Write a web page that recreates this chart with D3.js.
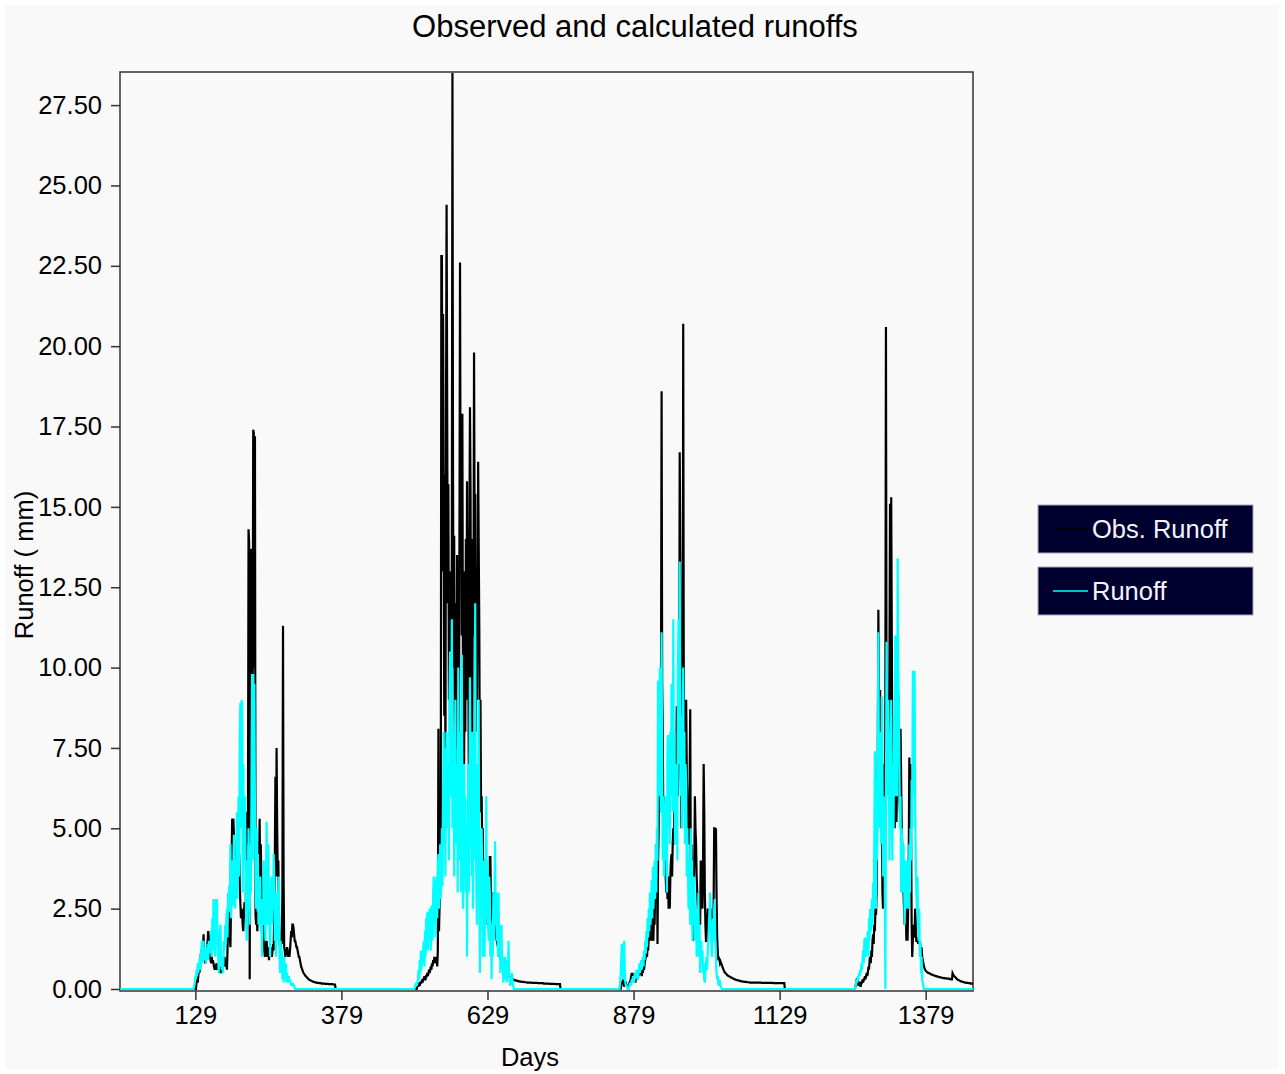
<!DOCTYPE html>
<html>
<head>
<meta charset="utf-8">
<script src="https://cdn.jsdelivr.net/npm/d3@7"></script>
<style>
body { margin: 0; background: #fff; }
svg text { font-family: "Liberation Sans", Arial, sans-serif; }
</style>
</head>
<body>
<div id="grafico"></div>
<script>
const width = 1285;
const height = 1074;

const titulo = "Observed and calculated runoffs";
const xLabel = "Days";
const yLabel = "Runoff ( mm)";
const seriesNames = ["Obs. Runoff", "Runoff"];
const seriesColors = ["#000000", "#00ffff"];

const xTicks = [129, 379, 629, 879, 1129, 1379];
const yTicks = [0, 2.5, 5, 7.5, 10, 12.5, 15, 17.5, 20, 22.5, 25, 27.5];
const xDomain = [0, 1460];
const yDomain = [0, 28.53];

// observado: primeiro dia de cada cheia + valores diarios (fora delas = 0)
const obsStarts = [130, 505, 858, 1258];

const obsSeason1 = [
	0, 0.2, 0.3, 0.2, 0.4, 0.6, 0.5, 0.8, 1.0, 1.2,
	1.0, 1.4, 1.2, 1.7, 1.1, 0.9, 0.8, 1.0, 0.9, 1.3,
	1.5, 1.8, 1.6, 1.2, 1.0, 0.9, 0.8, 1.0, 0.8, 0.9,
	0.8, 0.7, 0.6, 0.7, 0.6, 0.8, 0.7, 0.6, 0.7, 0.8,
	0.6, 0.5, 0.7, 0.6, 0.5, 0.6, 0.8, 0.7, 0.9, 1.0,
	0.8, 0.7, 0.9, 0.6, 1.2, 2.0, 2.9, 2.2, 1.6, 1.3,
	2.5, 4.0, 5.3, 4.5, 5.3, 4.8, 4.3, 3.8, 3.3, 4.0,
	4.2, 3.8, 4.2, 4.0, 4.2, 3.2, 2.7, 2.2, 2.5, 2.4,
	2.0, 1.8, 2.3, 2.7, 2.6, 2.2, 3.8, 5.5, 4.5, 5.0,
	14.3, 13.9, 0.3, 7.6, 13.7, 7.6, 13.5, 8.0, 17.4, 17.3,
	10.0, 17.2, 2.3, 2.0, 2.4, 1.8, 2.3, 2.0, 3.5, 5.3,
	3.3, 4.5, 3.3, 2.2, 1.6, 2.0, 1.6, 1.2, 1.0, 1.5,
	1.2, 1.5, 1.0, 1.3, 1.2, 0.9, 1.2, 1.0, 1.3, 1.2,
	1.0, 1.2, 1.4, 1.2, 2.5, 4.0, 6.6, 3.5, 7.5, 5.0,
	3.5, 4.0, 2.5, 1.5, 1.3, 1.2, 1.5, 1.4, 3.0, 11.3,
	3.5, 1.3, 1.2, 1.0, 1.1, 1.2, 1.3, 1.2, 1.0, 1.1,
	1.0, 1.2, 1.5, 1.8, 1.6, 2.0, 2.0, 1.9, 1.7, 1.5,
	1.5, 1.4, 1.3, 1.3, 1.2, 1.1, 1.0, 1.0, 0.9, 0.8,
	0.7, 0.65, 0.6, 0.55, 0.5, 0.48, 0.45, 0.42, 0.4, 0.38,
	0.36, 0.34, 0.32, 0.3, 0.29, 0.28, 0.27, 0.26, 0.25, 0.24,
	0.23, 0.22, 0.22, 0.21, 0.21, 0.2, 0.2, 0.2, 0.19, 0.19,
	0.19, 0.18, 0.18, 0.18, 0.18, 0.17, 0.17, 0.17, 0.17, 0.17,
	0.17, 0.16, 0.16, 0.16, 0.16, 0.16, 0.16, 0.15, 0.15, 0.15,
	0.15, 0.15, 0.15, 0.15, 0.15, 0.14, 0.14, 0.14, 0.14, 0
];

const obsSeason2 = [
	0, 0, 0, 0, 0.1, 0.1, 0.1, 0.2, 0.1, 0.2,
	0.2, 0.2, 0.3, 0.2, 0.3, 0.3, 0.4, 0.3, 0.3, 0.4,
	0.4, 0.5, 0.4, 0.5, 0.6, 0.5, 0.6, 0.7, 0.6, 0.8,
	0.7, 0.9, 0.8, 1.0, 0.9, 0.8, 0.9, 1.0, 0.7, 1.2,
	8.1, 1.8, 2.6, 3.4, 4.2, 22.8, 22.8, 13.0, 21.0, 14.5,
	8.5, 16.0, 6.5, 18.0, 24.4, 18.1, 12.0, 15.7, 9.0, 13.0,
	7.0, 12.5, 6.0, 14.1, 28.5, 16.2, 10.0, 14.1, 8.0, 5.0,
	12.0, 7.5, 13.5, 9.0, 12.0, 6.5, 14.0, 22.6, 14.5, 17.8,
	11.0, 17.9, 9.5, 13.0, 7.0, 12.5, 8.0, 14.0, 10.0, 15.8,
	9.0, 12.0, 6.5, 14.0, 18.1, 15.4, 9.0, 12.5, 7.5, 14.0,
	11.0, 19.8, 14.0, 15.4, 8.0, 13.0, 9.0, 12.5, 16.4, 13.8,
	11.2, 6.0, 9.0, 5.5, 6.0, 4.5, 5.0, 3.0, 4.0, 2.5,
	3.5, 2.0, 3.5, 2.5, 2.0, 3.0, 2.0, 1.8, 4.1, 4.1,
	2.5, 3.0, 2.2, 2.0, 3.0, 2.0, 2.2, 2.2, 1.8, 1.6,
	1.5, 1.4, 1.3, 1.2, 1.1, 1.0, 0.95, 0.9, 0.85, 0.8,
	0.75, 0.7, 0.66, 0.62, 0.58, 0.55, 0.52, 0.5, 0.47, 0.44,
	0.42, 0.4, 0.38, 0.36, 0.34, 0.33, 0.32, 0.31, 0.3, 0.29,
	0.28, 0.27, 0.27, 0.26, 0.26, 0.25, 0.25, 0.24, 0.24, 0.24,
	0.23, 0.23, 0.23, 0.22, 0.22, 0.22, 0.22, 0.21, 0.21, 0.21,
	0.21, 0.21, 0.2, 0.2, 0.2, 0.2, 0.2, 0.2, 0.2, 0.2,
	0.19, 0.19, 0.19, 0.19, 0.19, 0.19, 0.19, 0.19, 0.19, 0.19,
	0.18, 0.18, 0.18, 0.18, 0.18, 0.18, 0.18, 0.18, 0.18, 0.18,
	0.17, 0.17, 0.17, 0.17, 0.17, 0.17, 0.17, 0.17, 0.17, 0.17,
	0.16, 0.16, 0.16, 0.16, 0.16, 0.16, 0.16, 0.16, 0.16, 0.16,
	0.15, 0.15, 0.15, 0.15, 0.15, 0.15, 0.15, 0.15, 0.15, 0
];

const obsSeason3 = [
	0.1, 0.2, 0.2, 0.3, 0.2, 0.1, 0.1, 0.2, 0.2, 0.1,
	0.1, 0.1, 0.1, 0.1, 0.2, 0.2, 0.3, 0.4, 0.5, 0.4,
	0.5, 0.3, 0.4, 0.3, 0.2, 0.3, 0.4, 0.3, 0.4, 0.5,
	0.4, 0.6, 0.5, 0.6, 0.5, 0.4, 0.6, 0.5, 0.7, 0.6,
	0.8, 0.9, 1.0, 1.2, 1.0, 1.3, 1.2, 1.6, 2.0, 1.5,
	2.0, 1.8, 1.5, 2.2, 1.6, 1.5, 2.5, 2.0, 3.0, 2.8,
	4.5, 4.3, 1.4, 4.0, 5.0, 7.4, 6.0, 5.5, 9.5, 18.6,
	9.5, 8.0, 5.0, 6.0, 4.5, 4.3, 3.5, 3.0, 4.0, 2.8,
	3.5, 2.5, 3.0, 2.5, 3.5, 4.0, 4.2, 3.5, 4.5, 5.0,
	4.5, 6.0, 5.5, 7.0, 6.5, 8.8, 7.5, 6.0, 7.0, 8.0,
	16.7, 13.3, 8.4, 5.0, 8.0, 6.5, 20.7, 9.0, 8.0, 7.5,
	6.5, 9.0, 7.0, 5.5, 6.0, 4.5, 5.5, 6.5, 8.7, 3.5,
	4.5, 3.0, 2.5, 1.5, 3.0, 4.0, 6.0, 5.0, 4.5, 3.5,
	3.0, 2.5, 2.0, 2.5, 3.0, 2.0, 4.0, 3.5, 3.0, 2.5,
	4.0, 7.0, 5.5, 3.0, 2.0, 1.5, 1.5, 2.0, 2.5, 2.0,
	2.5, 2.0, 2.0, 2.5, 2.0, 1.8, 1.6, 2.0, 2.5, 5.0,
	5.0, 4.8, 5.0, 3.0, 1.7, 1.2, 0.9, 1.0, 0.9, 0.8,
	0.85, 0.8, 0.75, 0.7, 0.65, 0.6, 0.56, 0.52, 0.5, 0.48,
	0.46, 0.44, 0.42, 0.41, 0.4, 0.39, 0.38, 0.37, 0.36, 0.35,
	0.34, 0.33, 0.32, 0.31, 0.3, 0.3, 0.29, 0.28, 0.28, 0.27,
	0.27, 0.26, 0.26, 0.25, 0.25, 0.24, 0.24, 0.24, 0.23, 0.23,
	0.23, 0.22, 0.22, 0.22, 0.22, 0.21, 0.21, 0.21, 0.21, 0.21,
	0.2, 0.2, 0.2, 0.2, 0.2, 0.2, 0.2, 0.2, 0.2, 0.2,
	0.2, 0.2, 0.2, 0.2, 0.2, 0.2, 0.2, 0.2, 0.2, 0.2,
	0.19, 0.19, 0.19, 0.19, 0.19, 0.19, 0.19, 0.19, 0.19, 0.19,
	0.19, 0.19, 0.19, 0.19, 0.19, 0.19, 0.19, 0.19, 0.19, 0.19,
	0.18, 0.18, 0.18, 0.18, 0.18, 0.18, 0.18, 0.18, 0.18, 0.18,
	0.18, 0.18, 0.18, 0.18, 0.18, 0.18, 0.18, 0.18, 0.18, 0.18,
	0
];

const obsSeason4 = [
	0, 0.1, 0.2, 0.3, 0.3, 0.2, 0.1, 0.2, 0.2, 0.1,
	0.1, 0.2, 0.2, 0.3, 0.2, 0.3, 0.3, 0.4, 0.3, 0.4,
	0.5, 0.4, 0.5, 0.7, 0.6, 0.9, 1.0, 0.8, 1.2, 1.0,
	1.5, 1.7, 1.4, 2.0, 1.8, 2.5, 2.3, 3.0, 5.5, 7.0,
	11.8, 9.2, 8.0, 9.3, 6.5, 8.0, 5.0, 3.0, 2.5, 5.5,
	7.0, 4.5, 9.0, 20.6, 9.0, 7.5, 8.5, 9.0, 7.0, 10.0,
	15.1, 6.5, 15.3, 11.0, 6.9, 7.0, 6.2, 6.0, 5.0, 5.5,
	6.0, 5.2, 6.5, 7.5, 9.2, 7.0, 6.0, 5.5, 8.1, 6.5,
	5.0, 4.4, 3.5, 3.0, 2.5, 2.0, 3.0, 2.5, 1.5, 2.0,
	1.5, 2.5, 4.0, 7.2, 6.0, 7.0, 5.0, 2.0, 1.0, 1.5,
	2.0, 1.8, 1.6, 2.5, 2.0, 1.5, 1.5, 1.6, 1.4, 1.5,
	1.4, 1.5, 1.3, 1.2, 1.3, 1.0, 0.9, 0.8, 0.7, 0.65,
	0.6, 0.57, 0.55, 0.53, 0.52, 0.5, 0.5, 0.49, 0.48, 0.47,
	0.46, 0.45, 0.45, 0.44, 0.43, 0.42, 0.42, 0.41, 0.4, 0.4,
	0.39, 0.39, 0.38, 0.38, 0.37, 0.37, 0.36, 0.36, 0.35, 0.35,
	0.35, 0.34, 0.34, 0.34, 0.33, 0.33, 0.33, 0.33, 0.32, 0.32,
	0.32, 0.32, 0.31, 0.31, 0.31, 0.3, 0.3, 0.49, 0.45, 0.42,
	0.4, 0.38, 0.36, 0.34, 0.32, 0.3, 0.29, 0.28, 0.27, 0.26,
	0.25, 0.24, 0.24, 0.23, 0.22, 0.22, 0.21, 0.21, 0.2, 0.2,
	0.2, 0.19, 0.19, 0.19, 0.18, 0.18, 0.18, 0.18, 0.17, 0.17,
	0.17, 0.17, 0.17
];

// calculado
const calcStarts = [125, 505, 855, 1258];

const calcSeason1 = [
	0, 0, 0.1, 0.2, 0.4, 0.3, 0.6, 0.4, 0.8, 0.5,
	0.7, 0.9, 1.0, 0.6, 1.2, 1.5, 0.8, 1.4, 1.5, 0.9,
	1.1, 1.3, 0.8, 1.2, 1.0, 1.4, 0.9, 1.5, 1.1, 1.5,
	1.2, 1.8, 1.0, 2.2, 1.5, 2.8, 1.2, 2.5, 1.0, 2.8,
	2.0, 2.8, 1.5, 1.0, 0.5, 1.2, 1.8, 2.0, 1.0, 0.6,
	1.0, 0.5, 0.8, 1.5, 1.2, 2.0, 1.4, 2.2, 2.5, 1.6,
	3.0, 2.4, 3.2, 2.8, 4.5, 2.2, 3.5, 3.0, 4.0, 2.6,
	4.8, 3.0, 2.5, 4.0, 3.2, 5.5, 2.8, 4.5, 6.0, 3.5,
	8.0, 8.9, 5.0, 9.0, 8.8, 3.0, 7.0, 4.0, 5.0, 6.0,
	3.5, 2.0, 1.5, 4.0, 2.5, 5.0, 3.0, 2.0, 4.5, 3.0,
	6.0, 9.8, 4.0, 9.8, 7.0, 9.5, 5.5, 3.5, 2.5, 5.0,
	3.0, 4.2, 2.0, 3.5, 2.5, 3.5, 1.8, 2.5, 1.0, 2.8,
	2.0, 4.0, 2.5, 3.0, 1.5, 3.5, 5.2, 2.0, 3.0, 4.5,
	2.5, 1.8, 1.0, 2.5, 3.5, 2.0, 3.0, 2.5, 4.2, 3.5,
	1.5, 2.5, 1.0, 3.0, 2.0, 1.5, 2.5, 3.5, 1.0, 0.5,
	1.5, 0.8, 1.2, 0.3, 0.8, 0.2, 1.0, 0.5, 0.3, 0.8,
	0.2, 0.5, 0.3, 0.2, 0.4, 0.2, 0.3, 0.2, 0.1, 0.2,
	0.1, 0.2, 0.1, 0.1, 0.05, 0
];

const calcSeason2 = [
	0.1, 0.1, 0.2, 0.1, 0.2, 0.3, 0.6, 0.3, 0.9, 0.5,
	1.2, 0.6, 1.0, 0.8, 1.3, 1.5, 0.7, 1.8, 1.0, 2.2,
	1.5, 2.4, 1.2, 2.0, 1.6, 2.5, 1.8, 1.2, 2.6, 2.0,
	1.5, 3.0, 3.5, 2.0, 3.4, 1.6, 3.0, 3.5, 2.2, 3.8,
	4.2, 2.5, 3.0, 4.5, 2.8, 3.6, 5.0, 3.2, 6.0, 8.0,
	4.5, 7.5, 3.5, 6.5, 8.0, 5.0, 6.0, 7.0, 4.0, 9.0,
	10.5, 6.0, 8.5, 11.5, 5.0, 8.0, 6.5, 3.5, 7.0, 9.0,
	4.5, 6.0, 7.0, 3.0, 10.0, 6.5, 4.0, 5.5, 8.0, 3.0,
	10.4, 6.0, 2.5, 3.5, 7.0, 4.0, 6.0, 3.0, 5.0, 1.0,
	4.0, 7.0, 3.0, 5.5, 9.7, 4.5, 6.5, 3.5, 8.0, 2.5,
	6.0, 4.0, 7.0, 12.0, 5.0, 3.0, 2.0, 7.0, 4.5, 9.0,
	3.0, 0.5, 4.0, 2.5, 5.0, 3.5, 1.0, 2.0, 4.0, 1.0,
	3.0, 2.0, 6.0, 2.5, 4.0, 2.0, 1.5, 3.5, 3.0, 1.0,
	2.0, 0.3, 2.0, 1.0, 3.0, 1.5, 2.5, 4.6, 2.0, 3.0,
	1.5, 2.5, 1.0, 3.0, 1.0, 2.0, 0.5, 1.5, 2.0, 0.6,
	1.0, 0.2, 0.8, 0.4, 1.0, 0.3, 0.6, 0.2, 0.9, 0.4,
	1.5, 0.5, 0.3, 0.1, 0.3, 0.2, 0.5, 0.2, 0.1, 0
];

const calcSeason3 = [
	0, 0.2, 0.5, 1.0, 1.4, 0.8, 0.3, 1.2, 1.5, 0.6,
	0.2, 0.1, 0.1, 0.05, 0, 0, 0, 0.1, 0.2, 0.1,
	0.2, 0.3, 0.2, 0.4, 0.3, 0.2, 0.5, 0.3, 0.4, 0.6,
	0.4, 0.5, 0.3, 0.6, 0.8, 0.5, 0.7, 0.9, 0.6, 0.8,
	1.0, 0.7, 1.2, 0.9, 1.5, 1.1, 1.8, 1.3, 2.2, 1.6,
	2.5, 1.8, 3.0, 2.0, 2.6, 3.4, 2.2, 3.8, 2.5, 3.2,
	4.0, 2.8, 4.5, 3.0, 5.0, 4.0, 9.6, 6.0, 7.5, 10.0,
	8.0, 5.5, 11.1, 6.5, 4.0, 6.0, 3.5, 5.5, 4.0, 6.0,
	5.0, 3.0, 7.5, 7.9, 5.0, 6.5, 4.5, 8.0, 6.0, 9.5,
	7.0, 5.5, 11.5, 6.0, 8.0, 4.5, 7.0, 5.0, 6.5, 4.0,
	10.0, 11.5, 7.0, 13.3, 9.0, 6.0, 8.5, 5.0, 7.5, 10.0,
	6.0, 8.0, 4.5, 7.0, 6.5, 3.5, 5.0, 4.0, 2.5, 4.0,
	3.0, 2.0, 5.0, 2.5, 4.0, 1.5, 3.0, 2.0, 3.5, 2.5,
	1.5, 2.5, 1.0, 2.0, 1.5, 3.0, 1.0, 2.0, 0.5, 1.0,
	1.5, 0.8, 1.2, 0.5, 0.8, 0.3, 0.2, 0.5, 0.8, 1.0,
	0.6, 1.2, 1.5, 2.0, 2.5, 3.0, 2.0, 1.5, 1.0, 1.8,
	2.2, 1.5, 2.5, 2.8, 1.5, 1.0, 0.5, 0.3, 0.4, 0.2,
	0.1, 0.3, 0.2, 0.1, 0.05, 0
];

const calcSeason4 = [
	0, 0.1, 0.2, 0.3, 0.2, 0.4, 0.3, 0.5, 0.4, 0.6,
	0.5, 0.8, 0.6, 0.9, 1.2, 0.8, 1.5, 1.6, 1.0, 1.4,
	1.6, 1.2, 1.8, 1.0, 2.2, 1.5, 2.5, 1.8, 2.0, 2.8,
	2.0, 3.3, 2.5, 4.5, 7.4, 5.0, 2.5, 6.5, 4.0, 8.0,
	11.1, 7.0, 5.0, 8.0, 6.0, 4.5, 9.1, 7.0, 3.5, 6.0,
	4.0, 3.5, 0.0, 6.0, 10.8, 8.0, 6.0, 9.0, 7.5, 4.0,
	8.0, 6.0, 9.0, 5.5, 4.0, 7.0, 5.0, 8.5, 6.0, 11.0,
	7.5, 9.5, 6.0, 13.4, 10.0, 9.0, 7.0, 5.0, 6.0, 3.0,
	5.0, 4.0, 3.0, 4.5, 3.5, 2.0, 3.0, 4.0, 2.5, 3.0,
	3.0, 4.0, 2.5, 4.5, 3.0, 5.0, 4.0, 6.5, 5.0, 9.9,
	9.8, 6.0, 9.9, 5.5, 4.0, 3.0, 2.5, 3.5, 2.0, 1.5,
	2.5, 1.0, 1.5, 0.5, 1.0, 0.3, 0.2, 0.1, 0, 0
];

function montarSerie(inicios, temporadas) {
	const valores = new Array(xDomain[1] + 1).fill(0);
	temporadas.forEach((t, i) => {
		t.forEach((v, j) => { valores[inicios[i] + j] = v; });
	});
	return valores.map((v, dia) => ({ dia: dia, valor: v }));
}

const observado = montarSerie(obsStarts, [obsSeason1, obsSeason2, obsSeason3, obsSeason4]);
const calculado = montarSerie(calcStarts, [calcSeason1, calcSeason2, calcSeason3, calcSeason4]);

const plot = { left: 120, right: 973, top: 72, bottom: 991 };

const svg = d3.select("#grafico").append("svg")
	.attr("width", width)
	.attr("height", height);

svg.append("rect")
	.attr("x", 5).attr("y", 5)
	.attr("width", 1274).attr("height", 1064)
	.attr("fill", "#f9f9f9");

const x = d3.scaleLinear().domain(xDomain).range([plot.left, plot.right]);
// zero um pouco acima da moldura, como no original
const y = d3.scaleLinear().domain(yDomain).range([989, plot.top]);

svg.append("defs").append("clipPath").attr("id", "area")
	.append("rect")
	.attr("x", plot.left).attr("y", plot.top)
	.attr("width", plot.right - plot.left)
	.attr("height", plot.bottom - plot.top);

const linha = d3.line()
	.x(d => x(d.dia))
	.y(d => y(d.valor));

// eixos
const eixoY = svg.append("g")
	.attr("transform", `translate(${plot.left},0)`)
	.call(d3.axisLeft(y).tickValues(yTicks).tickFormat(d3.format(".2f")).tickSize(9).tickPadding(9));

const eixoX = svg.append("g")
	.attr("transform", `translate(0,${plot.bottom})`)
	.call(d3.axisBottom(x).tickValues(xTicks).tickFormat(d3.format("d")).tickSize(9).tickPadding(6));

[eixoY, eixoX].forEach(eixo => {
	eixo.select(".domain").remove();
	eixo.selectAll(".tick line").attr("stroke", "#333").attr("stroke-width", 1.5);
	eixo.selectAll(".tick text")
		.attr("fill", "#000")
		.style("font-size", "25.5px");
});

svg.append("rect")
	.attr("x", plot.left).attr("y", plot.top)
	.attr("width", plot.right - plot.left)
	.attr("height", plot.bottom - plot.top)
	.attr("fill", "none")
	.attr("stroke", "#333")
	.attr("stroke-width", 1.5);

const linhas = svg.append("g").attr("clip-path", "url(#area)");

// observado primeiro, calculado por cima
[observado, calculado].forEach((serie, i) => {
	linhas.append("path")
		.datum(serie)
		.attr("fill", "none")
		.attr("stroke", seriesColors[i])
		.attr("stroke-width", 2.2)
		.attr("d", linha);
});

// textos
svg.append("text")
	.attr("x", 635).attr("y", 37)
	.attr("text-anchor", "middle")
	.style("font-size", "31px")
	.text(titulo);

svg.append("text")
	.attr("x", 530).attr("y", 1066)
	.attr("text-anchor", "middle")
	.style("font-size", "25.5px")
	.text(xLabel);

svg.append("text")
	.attr("transform", "translate(33,565) rotate(-90)")
	.attr("text-anchor", "middle")
	.style("font-size", "25.5px")
	.text(yLabel);

// legenda
const legenda = svg.append("g")
	.selectAll("g")
	.data(seriesNames)
	.enter().append("g")
	.attr("transform", (d, i) => `translate(1038,${505 + i * 62})`);

legenda.append("rect")
	.attr("width", 215).attr("height", 48)
	.attr("fill", "#00002e")
	.attr("stroke", "#a8a8c0")
	.attr("stroke-width", 1);

legenda.append("line")
	.attr("x1", 15).attr("x2", 50)
	.attr("y1", 24).attr("y2", 24)
	.attr("stroke", (d, i) => seriesColors[i])
	.attr("stroke-width", 1.5);

legenda.append("text")
	.attr("x", 54).attr("y", 33)
	.attr("fill", "#f4f4ff")
	.style("font-size", "25.5px")
	.text(d => d);
</script>
</body>
</html>
